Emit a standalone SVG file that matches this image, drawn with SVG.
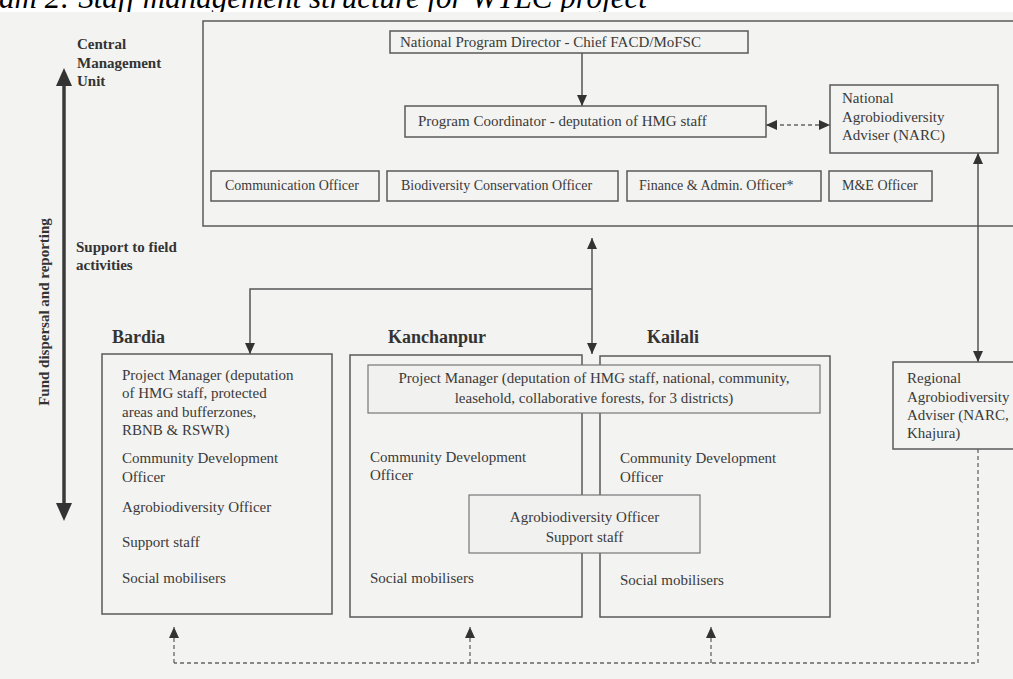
<svg xmlns="http://www.w3.org/2000/svg" width="1013" height="679" viewBox="0 0 1013 679">
<defs>
<style>
text{font-family:"Liberation Serif","Times New Roman",serif;fill:#3a3a3a}
.t{font-size:15px}
.s{font-size:14px}
.b{font-size:15px;font-weight:bold;fill:#333}
.d{font-size:18px;font-weight:bold;fill:#333}
.c{text-anchor:middle}
.box{fill:none;stroke:#5a5a5a;stroke-width:1.5}
.sh{fill:#f1f1f0;stroke:#777;stroke-width:1.2}
.ln{fill:none;stroke:#555;stroke-width:1.5}
.dash{fill:none;stroke:#666;stroke-width:1.3;stroke-dasharray:4 3}
</style>
<marker id="ah" viewBox="0 0 12 10" refX="12" refY="5" markerWidth="11" markerHeight="10" orient="auto-start-reverse" markerUnits="userSpaceOnUse" preserveAspectRatio="none">
<path d="M0,0 L12,5 L0,10 z" fill="#333"/>
</marker>
</defs>
<rect x="0" y="0" width="1013" height="679" fill="#ffffff"/>
<text x="-1" y="8" font-size="31" font-style="italic" fill="#000" style="fill:#000">am 2: Staff management structure for WTLC project</text>
<rect x="0" y="12" width="1013" height="667" fill="#f3f3f1"/>

<g id="side-labels">
<text class="b" x="77" y="49">Central</text>
<text class="b" x="77" y="68">Management</text>
<text class="b" x="77" y="86">Unit</text>
<text class="b" x="76" y="252">Support to field</text>
<text class="b" x="76" y="270">activities</text>
<text class="b c" x="49" y="312" transform="rotate(-90 49 312)">Fund dispersal and reporting</text>
</g>

<g id="connectors">
<line x1="64" y1="84" x2="64" y2="505" stroke="#3a3a3a" stroke-width="3.5"/>
<polygon points="64,68 56,86 72,86" fill="#333"/>
<polygon points="64,521 56,503 72,503" fill="#333"/>
<line class="ln" x1="582" y1="53" x2="582" y2="106" marker-end="url(#ah)"/>
<line class="dash" x1="766" y1="125" x2="830" y2="125" marker-start="url(#ah)" marker-end="url(#ah)"/>
<line class="ln" x1="978" y1="153" x2="978" y2="362" marker-start="url(#ah)" marker-end="url(#ah)"/>
<polyline class="ln" points="592,289 250,289 250,354" marker-end="url(#ah)"/>
<line class="ln" x1="592" y1="238" x2="592" y2="354" marker-start="url(#ah)" marker-end="url(#ah)"/>
<polyline class="dash" points="978,449 978,663 174,663"/>
<line class="dash" x1="174" y1="663" x2="174" y2="627" marker-end="url(#ah)"/>
<line class="dash" x1="470" y1="663" x2="470" y2="627" marker-end="url(#ah)"/>
<line class="dash" x1="711" y1="663" x2="711" y2="627" marker-end="url(#ah)"/>
</g>

<g id="cmu">
<rect class="box" x="203" y="21" width="830" height="205"/>
</g>
<g id="npd">
<rect class="box" x="390" y="31" width="358" height="22"/>
<text class="t" x="400" y="47">National Program Director - Chief FACD/MoFSC</text>
</g>
<g id="pc">
<rect class="box" x="405" y="106" width="361" height="31"/>
<text class="t" x="418" y="126">Program Coordinator - deputation of HMG staff</text>
</g>
<g id="narc">
<rect class="box" x="830" y="85" width="168" height="68"/>
<text class="t" x="842" y="103">National</text>
<text class="t" x="842" y="122">Agrobiodiversity</text>
<text class="t" x="842" y="140">Adviser (NARC)</text>
</g>
<g id="comm">
<rect class="box" x="211" y="171" width="168" height="30"/>
<text class="s" x="225" y="190">Communication Officer</text>
</g>
<g id="bio">
<rect class="box" x="387" y="171" width="231" height="30"/>
<text class="s" x="401" y="190">Biodiversity Conservation Officer</text>
</g>
<g id="fin">
<rect class="box" x="627" y="171" width="194" height="30"/>
<text class="s" x="639" y="190">Finance &amp; Admin. Officer*</text>
</g>
<g id="me">
<rect class="box" x="829" y="171" width="103" height="30"/>
<text class="s" x="842" y="190">M&amp;E Officer</text>
</g>

<g id="bardia">
<text class="d" x="112" y="343">Bardia</text>
<rect class="box" x="102" y="354" width="230" height="260"/>
<text class="t" x="122" y="380">Project Manager (deputation</text>
<text class="t" x="122" y="398">of HMG staff, protected</text>
<text class="t" x="122" y="417">areas and bufferzones,</text>
<text class="t" x="122" y="435">RBNB &amp; RSWR)</text>
<text class="t" x="122" y="463">Community Development</text>
<text class="t" x="122" y="482">Officer</text>
<text class="t" x="122" y="512">Agrobiodiversity Officer</text>
<text class="t" x="122" y="547">Support staff</text>
<text class="t" x="122" y="583">Social mobilisers</text>
</g>
<g id="kanchanpur">
<text class="d" x="388" y="343">Kanchanpur</text>
<rect class="box" x="350" y="355" width="232" height="262"/>
<text class="t" x="370" y="462">Community Development</text>
<text class="t" x="370" y="480">Officer</text>
<text class="t" x="370" y="583">Social mobilisers</text>
</g>
<g id="kailali">
<text class="d" x="647" y="343">Kailali</text>
<rect class="box" x="600" y="356" width="230" height="261"/>
<text class="t" x="620" y="463">Community Development</text>
<text class="t" x="620" y="482">Officer</text>
<text class="t" x="620" y="585">Social mobilisers</text>
</g>
<g id="shared-pm">
<rect class="sh" x="368" y="365" width="452" height="48"/>
<text class="t c" x="594" y="383">Project Manager (deputation of HMG staff, national, community,</text>
<text class="t c" x="594" y="403">leasehold, collaborative forests, for 3 districts)</text>
</g>
<g id="shared-agro">
<rect class="sh" x="469" y="495" width="231" height="58"/>
<text class="t c" x="584.5" y="522">Agrobiodiversity Officer</text>
<text class="t c" x="584.5" y="542">Support staff</text>
</g>
<g id="regional">
<rect class="box" x="893" y="362" width="140" height="87"/>
<text class="t" x="907" y="383">Regional</text>
<text class="t" x="907" y="402">Agrobiodiversity</text>
<text class="t" x="907" y="420">Adviser (NARC,</text>
<text class="t" x="907" y="438">Khajura)</text>
</g>
</svg>
